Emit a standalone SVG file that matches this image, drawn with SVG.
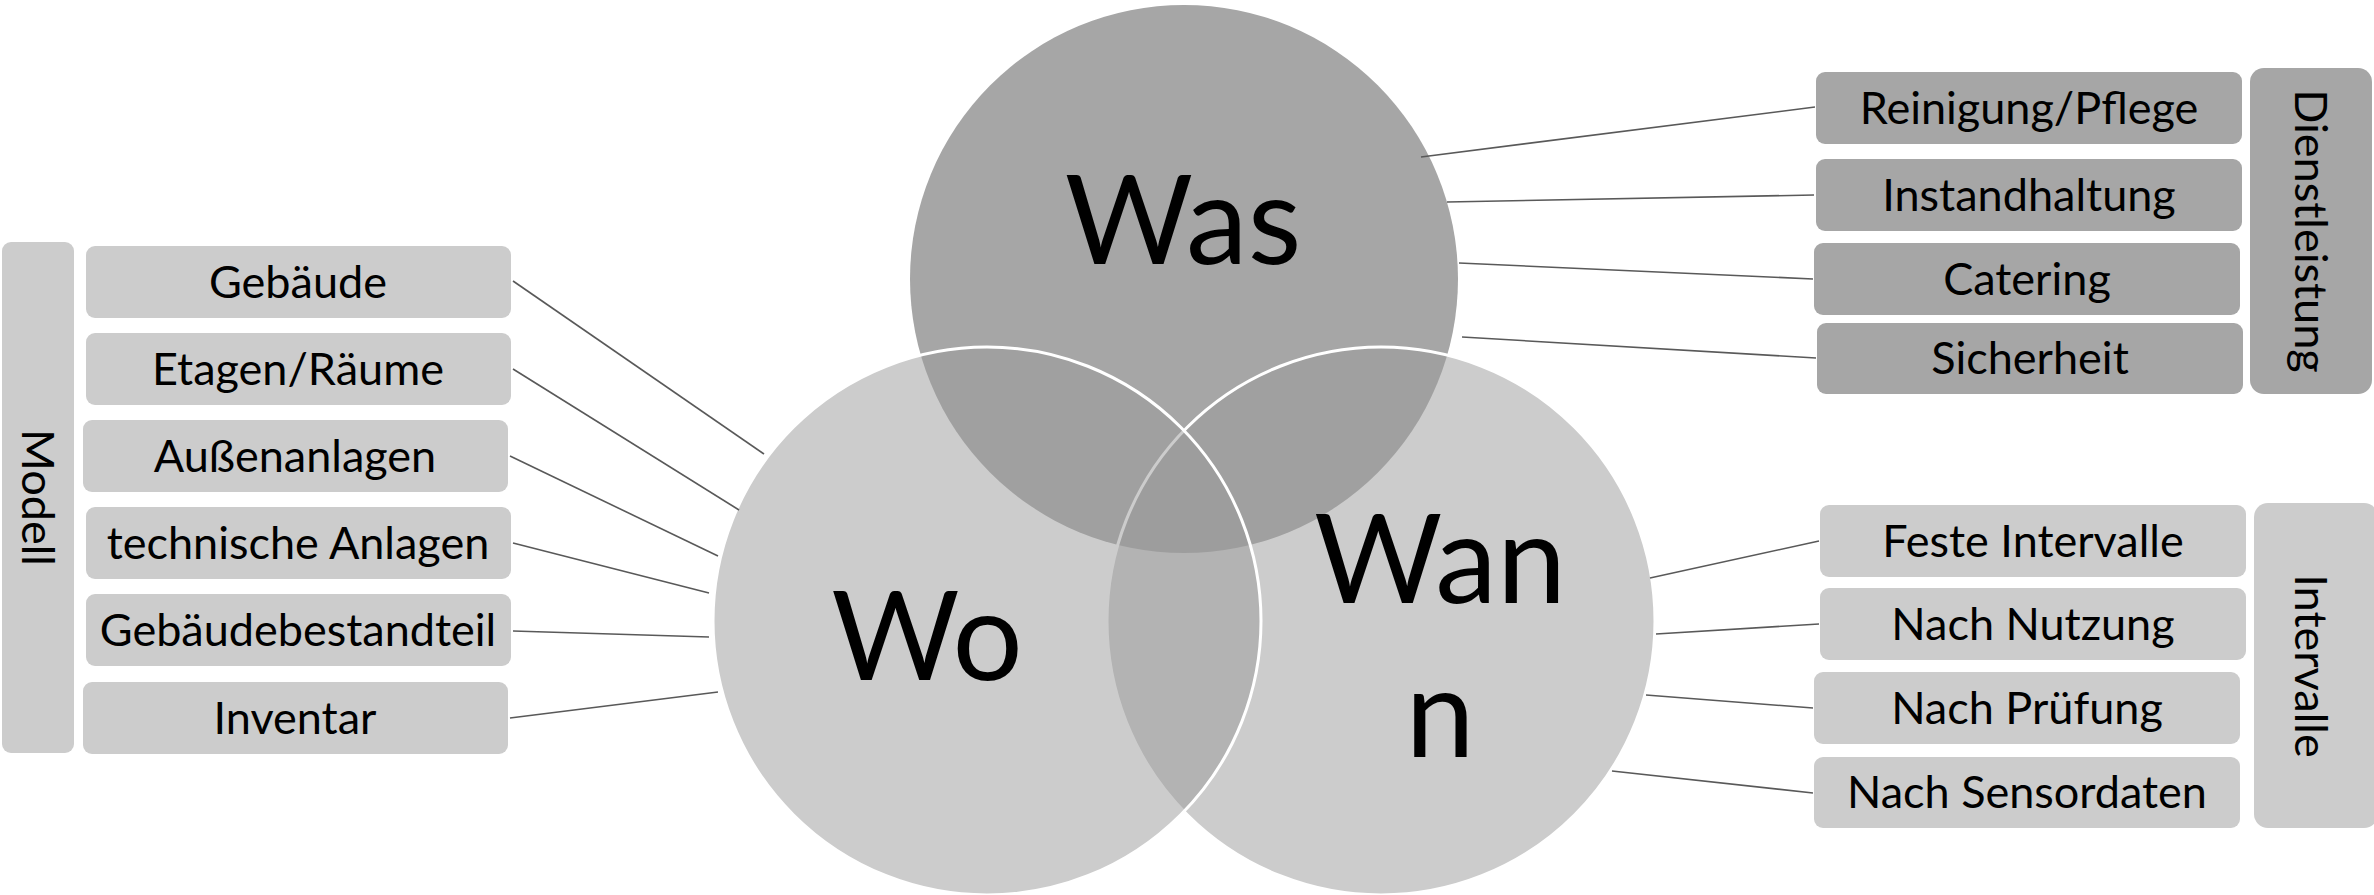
<svg xmlns="http://www.w3.org/2000/svg" width="2374" height="895" viewBox="0 0 2374 895">
  <style>
    .lbl { font-family: Lato, "Liberation Sans", sans-serif; font-size: 45px; fill: #000; text-anchor: middle; }
    .big { font-family: Lato, "Liberation Sans", sans-serif; font-size: 124px; fill: #000; text-anchor: middle; }
    .light { fill: #cccccc; }
    .dark { fill: #a6a6a6; }
    .link { stroke: #595959; stroke-width: 1.6; fill: none; }
    .venn { fill: #9b9b9b; fill-opacity: 0.51; stroke: #ffffff; stroke-width: 3; }
  </style>

  <!-- Venn circles -->
  <g id="venn">
    <g id="was">
      <circle cx="1184" cy="279" r="274" fill="#a6a6a6"/>
    </g>
    <g id="wann">
      <circle class="venn" cx="1381" cy="621" r="274"/>
    </g>
    <g id="wo">
      <circle class="venn" cx="987" cy="621" r="274"/>
    </g>
    <text class="big" x="1183" y="264">Was</text>
    <text class="big" x="927" y="680">Wo</text>
    <text class="big" x="1440" y="603">Wan</text>
    <text class="big" x="1440" y="757">n</text>
  </g>

  <!-- Connectors -->
  <g id="connectors">
    <line class="link" x1="513" y1="281" x2="764" y2="454"/>
    <line class="link" x1="513" y1="369" x2="739" y2="510"/>
    <line class="link" x1="510" y1="456" x2="718" y2="556"/>
    <line class="link" x1="513" y1="543" x2="709" y2="593"/>
    <line class="link" x1="513" y1="631" x2="709" y2="637"/>
    <line class="link" x1="510" y1="718" x2="718" y2="692"/>

    <line class="link" x1="1421" y1="157" x2="1815" y2="107"/>
    <line class="link" x1="1447" y1="202" x2="1814" y2="195"/>
    <line class="link" x1="1459" y1="263" x2="1813" y2="279"/>
    <line class="link" x1="1462" y1="337" x2="1816" y2="358"/>

    <line class="link" x1="1650" y1="578" x2="1819" y2="541"/>
    <line class="link" x1="1656" y1="634" x2="1819" y2="624"/>
    <line class="link" x1="1646" y1="695" x2="1813" y2="708"/>
    <line class="link" x1="1612" y1="771" x2="1813" y2="793"/>
  </g>

  <!-- Modell group -->
  <g id="modell">
    <rect class="light" x="2" y="242" width="72" height="511" rx="9"/>
    <text class="lbl" transform="translate(38,497.5) rotate(90)" x="0" y="16">Modell</text>
  </g>
  <g id="gebaeude">
    <rect class="light" x="86" y="246" width="425" height="72" rx="9"/>
    <text class="lbl" x="298" y="298">Gebäude</text>
  </g>
  <g id="etagen">
    <rect class="light" x="86" y="333" width="425" height="72" rx="9"/>
    <text class="lbl" x="298" y="385">Etagen/Räume</text>
  </g>
  <g id="aussenanlagen">
    <rect class="light" x="83" y="420" width="425" height="72" rx="9"/>
    <text class="lbl" x="295" y="472">Außenanlagen</text>
  </g>
  <g id="technische-anlagen">
    <rect class="light" x="86" y="507" width="425" height="72" rx="9"/>
    <text class="lbl" x="298" y="559">technische Anlagen</text>
  </g>
  <g id="gebaeudebestandteil">
    <rect class="light" x="86" y="594" width="425" height="72" rx="9"/>
    <text class="lbl" x="298" y="646">Gebäudebestandteil</text>
  </g>
  <g id="inventar">
    <rect class="light" x="83" y="682" width="425" height="72" rx="9"/>
    <text class="lbl" x="295" y="734">Inventar</text>
  </g>

  <!-- Dienstleistung group -->
  <g id="dienstleistung">
    <rect class="dark" x="2250" y="68" width="122" height="326" rx="14"/>
    <text class="lbl" transform="translate(2311,231) rotate(90)" x="0" y="16">Dienstleistung</text>
  </g>
  <g id="reinigung">
    <rect class="dark" x="1816" y="72" width="426" height="72" rx="9"/>
    <text class="lbl" x="2029" y="124">Reinigung/Pflege</text>
  </g>
  <g id="instandhaltung">
    <rect class="dark" x="1816" y="159" width="426" height="72" rx="9"/>
    <text class="lbl" x="2029" y="211">Instandhaltung</text>
  </g>
  <g id="catering">
    <rect class="dark" x="1814" y="243" width="426" height="72" rx="9"/>
    <text class="lbl" x="2027" y="295">Catering</text>
  </g>
  <g id="sicherheit">
    <rect class="dark" x="1817" y="323" width="426" height="71" rx="9"/>
    <text class="lbl" x="2030" y="374">Sicherheit</text>
  </g>

  <!-- Intervalle group -->
  <g id="intervalle">
    <rect class="light" x="2254" y="503" width="124" height="325" rx="14"/>
    <text class="lbl" transform="translate(2311,666) rotate(90)" x="0" y="16">Intervalle</text>
  </g>
  <g id="feste-intervalle">
    <rect class="light" x="1820" y="505" width="426" height="72" rx="9"/>
    <text class="lbl" x="2033" y="557">Feste Intervalle</text>
  </g>
  <g id="nach-nutzung">
    <rect class="light" x="1820" y="588" width="426" height="72" rx="9"/>
    <text class="lbl" x="2033" y="640">Nach Nutzung</text>
  </g>
  <g id="nach-pruefung">
    <rect class="light" x="1814" y="672" width="426" height="72" rx="9"/>
    <text class="lbl" x="2027" y="724">Nach Prüfung</text>
  </g>
  <g id="nach-sensordaten">
    <rect class="light" x="1814" y="757" width="426" height="71" rx="9"/>
    <text class="lbl" x="2027" y="808">Nach Sensordaten</text>
  </g>
</svg>
